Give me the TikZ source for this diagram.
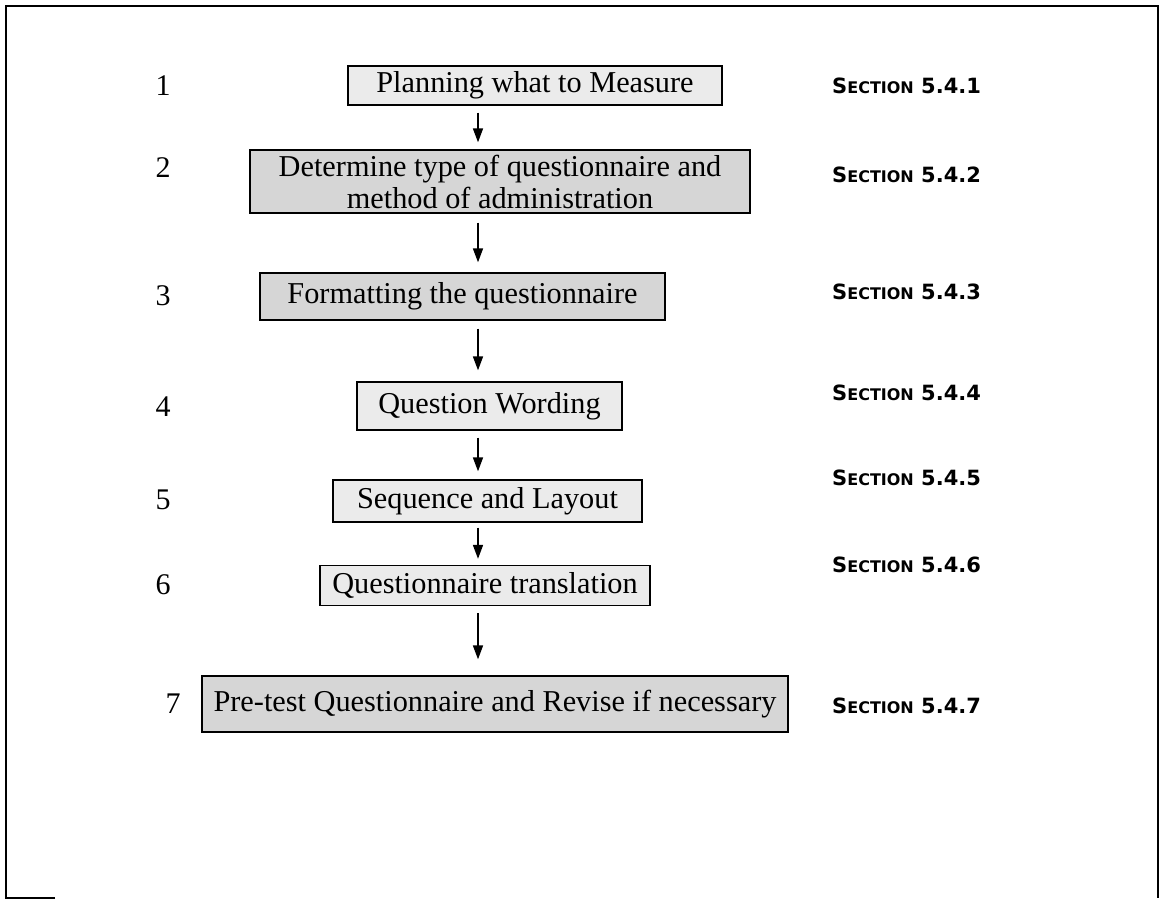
\documentclass[tikz,border=0pt]{standalone}
\usepackage{fontspec}
\setmainfont{Liberation Serif}
\newfontfamily\seclabelfont{DejaVu Sans}
\usetikzlibrary{arrows.meta}

\definecolor{boxdark}{gray}{0.84}
\definecolor{boxlight}{gray}{0.92}

\tikzset{
  stepbox/.style={draw=black, line width=1.3pt, inner sep=0pt, align=center,
    font=\fontsize{30.3}{32}\selectfont},
  darkbox/.style={stepbox, fill=boxdark},
  lightbox/.style={stepbox, fill=boxlight},
  stepnum/.style={font=\fontsize{30}{32}\selectfont, inner sep=0pt},
  seclabel/.style={anchor=west, inner sep=0pt, font=\seclabelfont\bfseries},
  flowarrow/.style={line width=1.6pt, -{Triangle[width=10pt,length=14pt]}},
  frameline/.style={line width=2pt}
}
\newcommand{\secname}[1]{{\fontsize{21}{24}\selectfont S}{\fontsize{16}{19}\selectfont ECTION}\fontsize{21}{24}\selectfont\ #1}

\begin{document}
\begin{tikzpicture}[x=1pt,y=-1pt]
  \useasboundingbox (0,0) rectangle (1160,901);
  % outer frame, open along the bottom
  \draw[frameline] (55,898) -- (6,898) -- (6,6) -- (1158,6) -- (1158,898);

  % process steps
  \node[lightbox, minimum width=374, minimum height=39] (b1) at (535,85.5) {Planning what to Measure};
  \node[darkbox,  minimum width=500, minimum height=63] (b2) at (500,181.5) {Determine type of questionnaire and\\method of administration};
  \node[darkbox,  minimum width=405, minimum height=47] (b3) at (462.5,296.5) {Formatting the questionnaire};
  \node[lightbox, minimum width=265, minimum height=48] (b4) at (489.5,406) {Question Wording};
  \node[lightbox, minimum width=309, minimum height=42] (b5) at (487.5,501) {Sequence and Layout};
  \node[lightbox, minimum width=330, minimum height=40] (b6) at (485,585.5) {Questionnaire translation};
  \node[darkbox,  minimum width=586, minimum height=56] (b7) at (495,704) {Pre-test Questionnaire and Revise if necessary};

  % step numbers
  \node[stepnum] (n1) at (163,86) {1};
  \node[stepnum] (n2) at (163,168) {2};
  \node[stepnum] (n3) at (163,296) {3};
  \node[stepnum] (n4) at (163,407) {4};
  \node[stepnum] (n5) at (163,500) {5};
  \node[stepnum] (n6) at (163,585) {6};
  \node[stepnum] (n7) at (173,704) {7};

  % section references
  \node[seclabel] (s1) at (832,86)  {\secname{5.4.1}};
  \node[seclabel] (s2) at (832,175) {\secname{5.4.2}};
  \node[seclabel] (s3) at (832,292) {\secname{5.4.3}};
  \node[seclabel] (s4) at (832,393) {\secname{5.4.4}};
  \node[seclabel] (s5) at (832,478) {\secname{5.4.5}};
  \node[seclabel] (s6) at (832,565) {\secname{5.4.6}};
  \node[seclabel] (s7) at (832,706) {\secname{5.4.7}};

  % connectors on a common vertical line
  \coordinate (ax) at (478,0);
  \draw[flowarrow] ([yshift=-7pt]b1.south -| ax) -- ([yshift=7pt]b2.north -| ax);
  \draw[flowarrow] ([yshift=-9pt]b2.south -| ax) -- ([yshift=10pt]b3.north -| ax);
  \draw[flowarrow] ([yshift=-8pt]b3.south -| ax) -- ([yshift=11pt]b4.north -| ax);
  \draw[flowarrow] ([yshift=-7pt]b4.south -| ax) -- ([yshift=8pt]b5.north -| ax);
  \draw[flowarrow] ([yshift=-5pt]b5.south -| ax) -- ([yshift=6pt]b6.north -| ax);
  \draw[flowarrow] ([yshift=-7pt]b6.south -| ax) -- ([yshift=16pt]b7.north -| ax);
\end{tikzpicture}
\end{document}
